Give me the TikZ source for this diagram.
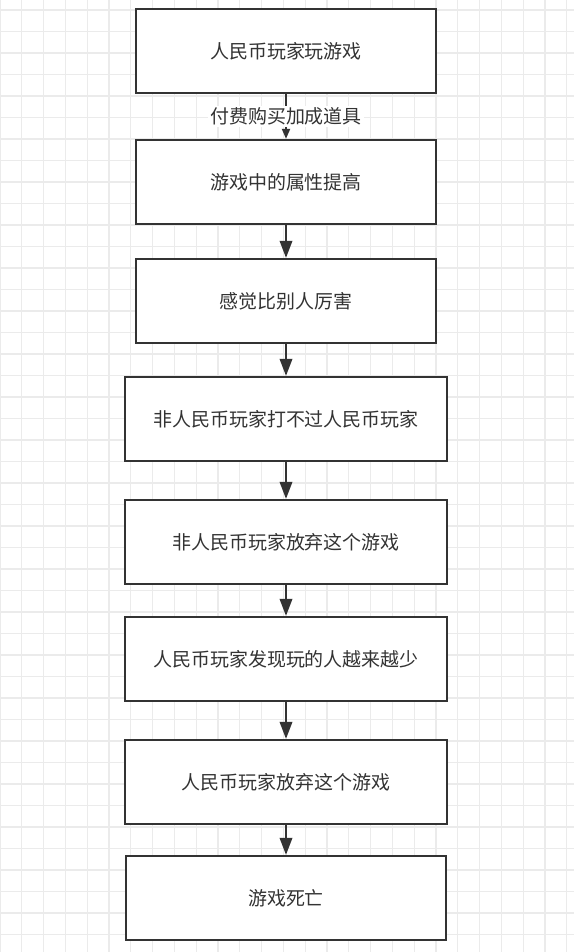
\documentclass[tikz,border=0pt]{standalone}
\usepackage{fontspec}
\setmainfont{Noto Sans CJK SC}
\usetikzlibrary{arrows.meta}
\definecolor{boxgray}{HTML}{333333}
\definecolor{gridgray}{HTML}{EBEBEB}

\begin{document}
\begin{tikzpicture}[
    x=0.02cm,y=-0.02cm,
    font=\fontsize{10.8pt}{13pt}\selectfont,
    stage/.style={
        draw=boxgray,
        fill=white,
        text=boxgray,
        line width=1.3pt,
        minimum width=6cm,
        minimum height=1.68cm,
        align=center
    },
    widestage/.style={stage,minimum width=6.44cm},
    flow/.style={-{Triangle[length=3.4mm,width=2.5mm]},line width=1.1pt,boxgray},
    smallflow/.style={-{Triangle[length=2mm,width=1.6mm]},line width=1.1pt,boxgray}
]

\useasboundingbox (0,0) rectangle (574,952);
\fill[white] (0,0) rectangle (574,952);

% Background grid
\foreach \gx in {0,21.8,...,574}
    \draw[gridgray,line width=0.6pt] (\gx,0) -- (\gx,952);
\foreach \gy in {10,31.5,...,952}
    \draw[gridgray,line width=0.6pt] (0,\gy) -- (574,\gy);

% Steps
\node[stage] (play) at (286,51) {人民币玩家玩游戏};
\node[stage] (stats) at (286,182) {游戏中的属性提高};
\node[stage] (feel) at (286,301) {感觉比别人厉害};
\node[widestage] (beaten) at (286,419) {非人民币玩家打不过人民币玩家};
\node[widestage] (quitfree) at (286,542) {非人民币玩家放弃这个游戏};
\node[widestage] (fewer) at (286,659) {人民币玩家发现玩的人越来越少};
\node[widestage] (quitpaid) at (286,782) {人民币玩家放弃这个游戏};
\node[stage,minimum width=6.4cm] (dead) at (286,898) {游戏死亡};

% Flow
\draw[smallflow] (play.south) -- node[fill=white,text=boxgray,inner sep=1pt] {付费购买加成道具} (stats.north);
\draw[flow] (stats.south) -- (feel.north);
\draw[flow] (feel.south) -- (beaten.north);
\draw[flow] (beaten.south) -- (quitfree.north);
\draw[flow] (quitfree.south) -- (fewer.north);
\draw[flow] (fewer.south) -- (quitpaid.north);
\draw[flow] (quitpaid.south) -- (dead.north);

\end{tikzpicture}
\end{document}
